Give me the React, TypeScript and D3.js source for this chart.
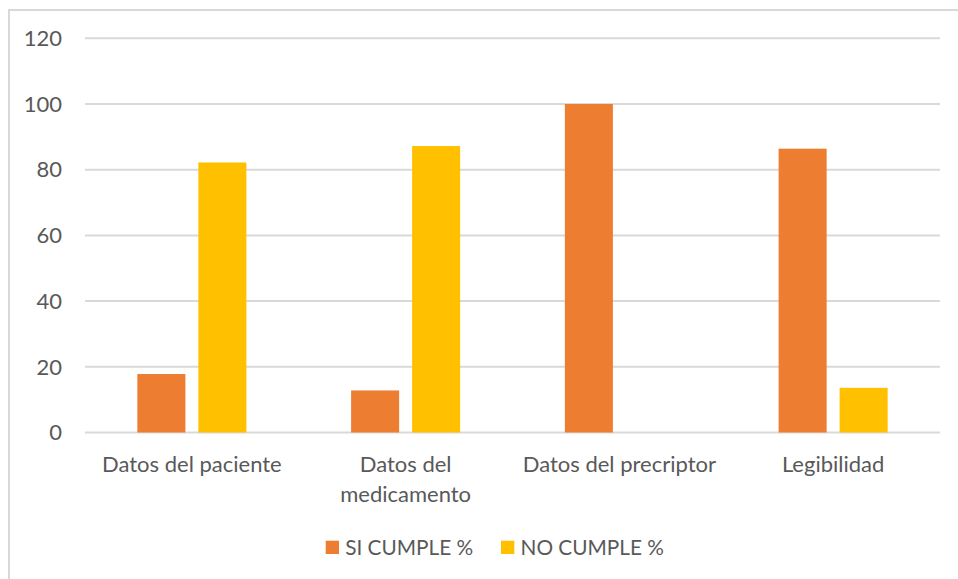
import React from "react";
import * as d3 from "d3";

// Categories (a "\n" marks where the axis label wraps)
const categories = [
  "Datos del paciente",
  "Datos del\nmedicamento",
  "Datos del precriptor",
  "Legibilidad",
];
const siCumple = [17.8, 12.8, 100, 86.4];
const noCumple = [82.2, 87.2, 0, 13.6];
const yTicks = [0, 20, 40, 60, 80, 100, 120];
const seriesNames = ["SI CUMPLE %", "NO CUMPLE %"];
const seriesColors = ["#ED7D31", "#FFC000"];

const W = 958;
const H = 579;
const FONT = "Lato, Calibri, 'Open Sans', sans-serif";
const TEXT = "#595959";
const GRID = "#d9d9d9";

export default function App() {
  const x = d3.scaleBand<string>().domain(categories).range([85, 940]);
  const y = d3.scaleLinear().domain([0, 120]).range([432.5, 38.3]);
  const bw = x.bandwidth();
  const overlap = 0.27; // gap between the two bars, as fraction of bar width
  const gapW = 2.18; // outer gap, as fraction of bar width
  const barW = bw / (2 + overlap + gapW);
  const groupOffset = (bw - (2 * barW + overlap * barW)) / 2;
  const series = [siCumple, noCumple];

  return (
    <div style={{ position: "fixed", left: 0, top: 0 }}>
      <svg width={W} height={H} style={{ display: "block", background: "#fff" }}>
        <rect x={9} y={10} width={980} height={620} fill="#fff" stroke={GRID} strokeWidth={2} />
        {yTicks.map((t) => (
          <g key={t}>
            <line x1={85} x2={940} y1={y(t)} y2={y(t)} stroke={GRID} strokeWidth={2} />
            <text
              x={62}
              y={y(t)}
              dy="0.35em"
              textAnchor="end"
              fontFamily={FONT}
              fontSize={22}
              fill={TEXT}
            >
              {t}
            </text>
          </g>
        ))}
        {series.map((vals, si) =>
          vals.map((v, i) => {
            if (v <= 0) return null;
            const bx = (x(categories[i]) as number) + groupOffset + si * barW * (1 + overlap);
            return (
              <rect
                key={`${si}-${i}`}
                x={bx}
                y={y(v)}
                width={barW}
                height={y(0) - y(v)}
                fill={seriesColors[si]}
              />
            );
          })
        )}
        {categories.map((c) => {
          const cx = (x(c) as number) + bw / 2;
          return (
            <text key={c} textAnchor="middle" fontFamily={FONT} fontSize={22} fill={TEXT}>
              {c.split("\n").map((line, li) => (
                <tspan key={li} x={cx} y={472 + li * 29.5}>
                  {line}
                </tspan>
              ))}
            </text>
          );
        })}
        {seriesNames.map((name, i) => {
          const lx = [325.7, 501][i];
          return (
            <g key={name}>
              <rect x={lx} y={540.7} width={13.3} height={13.3} fill={seriesColors[i]} />
              <text x={lx + 19.5} y={555} fontFamily={FONT} fontSize={20.8} fill={TEXT}>
                {name}
              </text>
            </g>
          );
        })}
      </svg>
    </div>
  );
}
